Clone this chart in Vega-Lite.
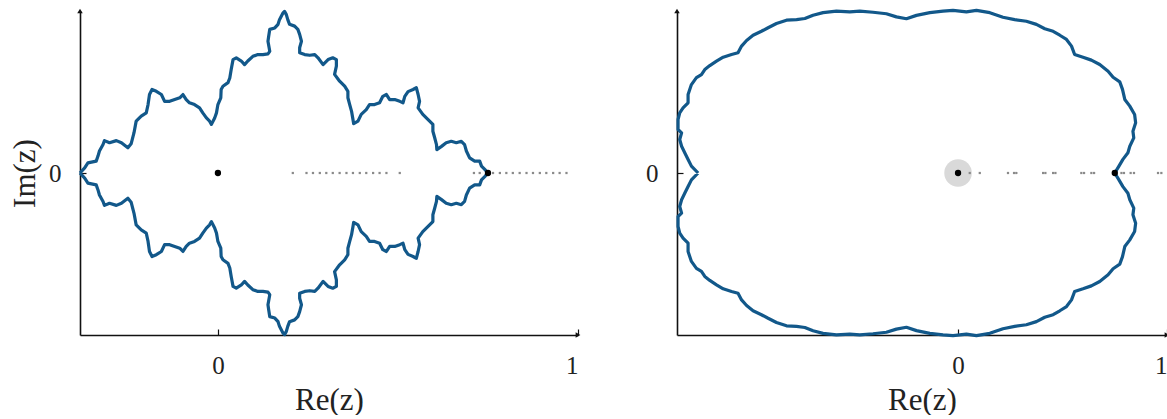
{
  "$schema": "https://vega.github.io/schema/vega-lite/v6.json",
  "padding": {"left": 9, "top": 8, "right": 0, "bottom": 0},
  "spacing": 64,
  "config": {
    "font": "Liberation Serif",
    "view": {"stroke": null},
    "axis": {
      "grid": false,
      "domainColor": "#111",
      "domainWidth": 1.6,
      "tickColor": "#111",
      "tickWidth": 1.2,
      "tickSize": -6,
      "labelFont": "Liberation Serif",
      "labelFontSize": 25,
      "labelColor": "#222",
      "titleFont": "Liberation Serif",
      "titleFontSize": 31,
      "titleFontWeight": "normal",
      "titleColor": "#222",
      "format": "d"
    }
  },
  "datasets": {
    "julia": [
      {"i":1,"x":-0.383,"y":0},{"i":2,"x":-0.370,"y":0.014},{"i":3,"x":-0.361,"y":0.028},{"i":4,"x":-0.338,"y":0.033},{"i":5,"x":-0.333,"y":0.047},{"i":6,"x":-0.329,"y":0.061},{"i":7,"x":-0.319,"y":0.079},{"i":8,"x":-0.315,"y":0.090},{"i":9,"x":-0.301,"y":0.084},{"i":10,"x":-0.282,"y":0.090},
      {"i":11,"x":-0.268,"y":0.084},{"i":12,"x":-0.250,"y":0.070},{"i":13,"x":-0.241,"y":0.081},{"i":14,"x":-0.233,"y":0.112},{"i":15,"x":-0.227,"y":0.144},{"i":16,"x":-0.213,"y":0.158},{"i":17,"x":-0.199,"y":0.167},{"i":18,"x":-0.194,"y":0.190},{"i":19,"x":-0.190,"y":0.218},{"i":20,"x":-0.183,"y":0.232},
      {"i":21,"x":-0.171,"y":0.227},{"i":22,"x":-0.157,"y":0.218},{"i":23,"x":-0.148,"y":0.199},{"i":24,"x":-0.134,"y":0.199},{"i":25,"x":-0.120,"y":0.204},{"i":26,"x":-0.106,"y":0.209},{"i":27,"x":-0.097,"y":0.218},{"i":28,"x":-0.088,"y":0.204},{"i":29,"x":-0.079,"y":0.195},{"i":30,"x":-0.065,"y":0.190},
      {"i":31,"x":-0.051,"y":0.181},{"i":32,"x":-0.042,"y":0.167},{"i":33,"x":-0.032,"y":0.153},{"i":34,"x":-0.023,"y":0.144},{"i":35,"x":-0.018,"y":0.135},{"i":36,"x":-0.009,"y":0.153},{"i":37,"x":-0.004,"y":0.167},{"i":38,"x":0.000,"y":0.190},{"i":39,"x":0.008,"y":0.209},{"i":40,"x":0.009,"y":0.232},
      {"i":41,"x":0.014,"y":0.241},{"i":42,"x":0.028,"y":0.251},{"i":43,"x":0.033,"y":0.264},{"i":44,"x":0.037,"y":0.288},{"i":45,"x":0.042,"y":0.315},{"i":46,"x":0.051,"y":0.320},{"i":47,"x":0.065,"y":0.311},{"i":48,"x":0.074,"y":0.301},{"i":49,"x":0.083,"y":0.311},{"i":50,"x":0.097,"y":0.324},
      {"i":51,"x":0.111,"y":0.329},{"i":52,"x":0.125,"y":0.329},{"i":53,"x":0.139,"y":0.331},{"i":54,"x":0.144,"y":0.338},{"i":55,"x":0.139,"y":0.366},{"i":56,"x":0.141,"y":0.380},{"i":57,"x":0.144,"y":0.399},{"i":58,"x":0.158,"y":0.403},{"i":59,"x":0.167,"y":0.413},{"i":60,"x":0.171,"y":0.426},
      {"i":61,"x":0.181,"y":0.445},{"i":62,"x":0.185,"y":0.449},{"i":63,"x":0.190,"y":0.440},{"i":64,"x":0.194,"y":0.426},{"i":65,"x":0.199,"y":0.413},{"i":66,"x":0.213,"y":0.408},{"i":67,"x":0.222,"y":0.399},{"i":68,"x":0.227,"y":0.385},{"i":69,"x":0.232,"y":0.366},{"i":70,"x":0.227,"y":0.348},
      {"i":71,"x":0.227,"y":0.334},{"i":72,"x":0.241,"y":0.329},{"i":73,"x":0.255,"y":0.327},{"i":74,"x":0.269,"y":0.329},{"i":75,"x":0.278,"y":0.320},{"i":76,"x":0.292,"y":0.301},{"i":77,"x":0.306,"y":0.315},{"i":78,"x":0.319,"y":0.320},{"i":79,"x":0.329,"y":0.315},{"i":80,"x":0.329,"y":0.297},
      {"i":81,"x":0.324,"y":0.274},{"i":82,"x":0.338,"y":0.255},{"i":83,"x":0.352,"y":0.241},{"i":84,"x":0.361,"y":0.227},{"i":85,"x":0.361,"y":0.209},{"i":86,"x":0.366,"y":0.190},{"i":87,"x":0.371,"y":0.172},{"i":88,"x":0.375,"y":0.149},{"i":89,"x":0.377,"y":0.137},{"i":90,"x":0.389,"y":0.144},
      {"i":91,"x":0.398,"y":0.163},{"i":92,"x":0.412,"y":0.176},{"i":93,"x":0.421,"y":0.190},{"i":94,"x":0.435,"y":0.190},{"i":95,"x":0.449,"y":0.195},{"i":96,"x":0.458,"y":0.213},{"i":97,"x":0.468,"y":0.218},{"i":98,"x":0.477,"y":0.204},{"i":99,"x":0.491,"y":0.204},{"i":100,"x":0.505,"y":0.199},
      {"i":101,"x":0.514,"y":0.195},{"i":102,"x":0.519,"y":0.213},{"i":103,"x":0.528,"y":0.226},{"i":104,"x":0.542,"y":0.232},{"i":105,"x":0.551,"y":0.237},{"i":106,"x":0.556,"y":0.218},{"i":107,"x":0.560,"y":0.199},{"i":108,"x":0.556,"y":0.181},{"i":109,"x":0.569,"y":0.163},{"i":110,"x":0.583,"y":0.149},
      {"i":111,"x":0.597,"y":0.135},{"i":112,"x":0.597,"y":0.116},{"i":113,"x":0.602,"y":0.098},{"i":114,"x":0.607,"y":0.079},{"i":115,"x":0.608,"y":0.065},{"i":116,"x":0.621,"y":0.074},{"i":117,"x":0.634,"y":0.084},{"i":118,"x":0.648,"y":0.088},{"i":119,"x":0.662,"y":0.084},{"i":120,"x":0.676,"y":0.088},
      {"i":121,"x":0.685,"y":0.079},{"i":122,"x":0.690,"y":0.061},{"i":123,"x":0.699,"y":0.042},{"i":124,"x":0.713,"y":0.033},{"i":125,"x":0.727,"y":0.033},{"i":126,"x":0.732,"y":0.019},{"i":127,"x":0.741,"y":0.010},{"i":128,"x":0.750,"y":0},
      {"i":129,"x":0.741,"y":-0.010},{"i":130,"x":0.732,"y":-0.019},{"i":131,"x":0.727,"y":-0.033},{"i":132,"x":0.713,"y":-0.033},{"i":133,"x":0.699,"y":-0.042},{"i":134,"x":0.690,"y":-0.061},{"i":135,"x":0.685,"y":-0.079},{"i":136,"x":0.676,"y":-0.088},{"i":137,"x":0.662,"y":-0.084},{"i":138,"x":0.648,"y":-0.088},
      {"i":139,"x":0.634,"y":-0.084},{"i":140,"x":0.621,"y":-0.074},{"i":141,"x":0.608,"y":-0.065},{"i":142,"x":0.607,"y":-0.079},{"i":143,"x":0.602,"y":-0.098},{"i":144,"x":0.597,"y":-0.116},{"i":145,"x":0.597,"y":-0.135},{"i":146,"x":0.583,"y":-0.149},{"i":147,"x":0.569,"y":-0.163},{"i":148,"x":0.556,"y":-0.181},
      {"i":149,"x":0.560,"y":-0.199},{"i":150,"x":0.556,"y":-0.218},{"i":151,"x":0.551,"y":-0.237},{"i":152,"x":0.542,"y":-0.232},{"i":153,"x":0.528,"y":-0.226},{"i":154,"x":0.519,"y":-0.213},{"i":155,"x":0.514,"y":-0.195},{"i":156,"x":0.505,"y":-0.199},{"i":157,"x":0.491,"y":-0.204},{"i":158,"x":0.477,"y":-0.204},
      {"i":159,"x":0.468,"y":-0.218},{"i":160,"x":0.458,"y":-0.213},{"i":161,"x":0.449,"y":-0.195},{"i":162,"x":0.435,"y":-0.190},{"i":163,"x":0.421,"y":-0.190},{"i":164,"x":0.412,"y":-0.176},{"i":165,"x":0.398,"y":-0.163},{"i":166,"x":0.389,"y":-0.144},{"i":167,"x":0.377,"y":-0.137},{"i":168,"x":0.375,"y":-0.149},
      {"i":169,"x":0.371,"y":-0.172},{"i":170,"x":0.366,"y":-0.190},{"i":171,"x":0.361,"y":-0.209},{"i":172,"x":0.361,"y":-0.227},{"i":173,"x":0.352,"y":-0.241},{"i":174,"x":0.338,"y":-0.255},{"i":175,"x":0.324,"y":-0.274},{"i":176,"x":0.329,"y":-0.297},{"i":177,"x":0.329,"y":-0.315},{"i":178,"x":0.319,"y":-0.320},
      {"i":179,"x":0.306,"y":-0.315},{"i":180,"x":0.292,"y":-0.301},{"i":181,"x":0.278,"y":-0.320},{"i":182,"x":0.269,"y":-0.329},{"i":183,"x":0.255,"y":-0.327},{"i":184,"x":0.241,"y":-0.329},{"i":185,"x":0.227,"y":-0.334},{"i":186,"x":0.227,"y":-0.348},{"i":187,"x":0.232,"y":-0.366},{"i":188,"x":0.227,"y":-0.385},
      {"i":189,"x":0.222,"y":-0.399},{"i":190,"x":0.213,"y":-0.408},{"i":191,"x":0.199,"y":-0.413},{"i":192,"x":0.194,"y":-0.426},{"i":193,"x":0.190,"y":-0.440},{"i":194,"x":0.185,"y":-0.449},{"i":195,"x":0.181,"y":-0.445},{"i":196,"x":0.171,"y":-0.426},{"i":197,"x":0.167,"y":-0.413},{"i":198,"x":0.158,"y":-0.403},
      {"i":199,"x":0.144,"y":-0.399},{"i":200,"x":0.141,"y":-0.380},{"i":201,"x":0.139,"y":-0.366},{"i":202,"x":0.144,"y":-0.338},{"i":203,"x":0.139,"y":-0.331},{"i":204,"x":0.125,"y":-0.329},{"i":205,"x":0.111,"y":-0.329},{"i":206,"x":0.097,"y":-0.324},{"i":207,"x":0.083,"y":-0.311},{"i":208,"x":0.074,"y":-0.301},
      {"i":209,"x":0.065,"y":-0.311},{"i":210,"x":0.051,"y":-0.320},{"i":211,"x":0.042,"y":-0.315},{"i":212,"x":0.037,"y":-0.288},{"i":213,"x":0.033,"y":-0.264},{"i":214,"x":0.028,"y":-0.251},{"i":215,"x":0.014,"y":-0.241},{"i":216,"x":0.009,"y":-0.232},{"i":217,"x":0.008,"y":-0.209},{"i":218,"x":0.000,"y":-0.190},
      {"i":219,"x":-0.004,"y":-0.167},{"i":220,"x":-0.009,"y":-0.153},{"i":221,"x":-0.018,"y":-0.135},{"i":222,"x":-0.023,"y":-0.144},{"i":223,"x":-0.032,"y":-0.153},{"i":224,"x":-0.042,"y":-0.167},{"i":225,"x":-0.051,"y":-0.181},{"i":226,"x":-0.065,"y":-0.190},{"i":227,"x":-0.079,"y":-0.195},{"i":228,"x":-0.088,"y":-0.204},
      {"i":229,"x":-0.097,"y":-0.218},{"i":230,"x":-0.106,"y":-0.209},{"i":231,"x":-0.120,"y":-0.204},{"i":232,"x":-0.134,"y":-0.199},{"i":233,"x":-0.148,"y":-0.199},{"i":234,"x":-0.157,"y":-0.218},{"i":235,"x":-0.171,"y":-0.227},{"i":236,"x":-0.183,"y":-0.232},{"i":237,"x":-0.190,"y":-0.218},{"i":238,"x":-0.194,"y":-0.190},
      {"i":239,"x":-0.199,"y":-0.167},{"i":240,"x":-0.213,"y":-0.158},{"i":241,"x":-0.227,"y":-0.144},{"i":242,"x":-0.233,"y":-0.112},{"i":243,"x":-0.241,"y":-0.081},{"i":244,"x":-0.250,"y":-0.070},{"i":245,"x":-0.268,"y":-0.084},{"i":246,"x":-0.282,"y":-0.090},{"i":247,"x":-0.301,"y":-0.084},{"i":248,"x":-0.315,"y":-0.090},
      {"i":249,"x":-0.319,"y":-0.079},{"i":250,"x":-0.329,"y":-0.061},{"i":251,"x":-0.333,"y":-0.047},{"i":252,"x":-0.338,"y":-0.033},{"i":253,"x":-0.361,"y":-0.028},{"i":254,"x":-0.370,"y":-0.014},{"i":255,"x":-0.383,"y":0}
    ],
    "disk": [
      {"i":1,"x":-1.244,"y":0},{"i":2,"x":-1.276,"y":0.033},{"i":3,"x":-1.292,"y":0.065},{"i":4,"x":-1.308,"y":0.097},{"i":5,"x":-1.323,"y":0.128},{"i":6,"x":-1.332,"y":0.160},{"i":7,"x":-1.323,"y":0.192},{"i":8,"x":-1.340,"y":0.208},{"i":9,"x":-1.340,"y":0.256},{"i":10,"x":-1.332,"y":0.288},
      {"i":11,"x":-1.316,"y":0.312},{"i":12,"x":-1.292,"y":0.336},{"i":13,"x":-1.292,"y":0.376},{"i":14,"x":-1.276,"y":0.423},{"i":15,"x":-1.252,"y":0.456},{"i":16,"x":-1.228,"y":0.471},{"i":17,"x":-1.212,"y":0.495},{"i":18,"x":-1.188,"y":0.514},{"i":19,"x":-1.156,"y":0.535},{"i":20,"x":-1.124,"y":0.554},
      {"i":21,"x":-1.084,"y":0.567},{"i":22,"x":-1.053,"y":0.575},{"i":23,"x":-1.036,"y":0.607},{"i":24,"x":-1.012,"y":0.634},{"i":25,"x":-0.981,"y":0.659},{"i":26,"x":-0.941,"y":0.678},{"i":27,"x":-0.909,"y":0.695},{"i":28,"x":-0.869,"y":0.715},{"i":29,"x":-0.821,"y":0.731},{"i":30,"x":-0.773,"y":0.734},
      {"i":31,"x":-0.733,"y":0.739},{"i":32,"x":-0.694,"y":0.755},{"i":33,"x":-0.646,"y":0.767},{"i":34,"x":-0.582,"y":0.774},{"i":35,"x":-0.518,"y":0.771},{"i":36,"x":-0.470,"y":0.774},{"i":37,"x":-0.407,"y":0.769},{"i":38,"x":-0.343,"y":0.762},{"i":39,"x":-0.295,"y":0.747},{"i":40,"x":-0.247,"y":0.738},
      {"i":41,"x":-0.199,"y":0.754},{"i":42,"x":-0.135,"y":0.767},{"i":43,"x":-0.072,"y":0.774},{"i":44,"x":-0.024,"y":0.778},{"i":45,"x":0.040,"y":0.771},{"i":46,"x":0.088,"y":0.778},{"i":47,"x":0.152,"y":0.767},{"i":48,"x":0.215,"y":0.745},{"i":49,"x":0.271,"y":0.734},{"i":50,"x":0.327,"y":0.726},
      {"i":51,"x":0.375,"y":0.711},{"i":52,"x":0.415,"y":0.690},{"i":53,"x":0.455,"y":0.678},{"i":54,"x":0.487,"y":0.659},{"i":55,"x":0.519,"y":0.639},{"i":56,"x":0.543,"y":0.607},{"i":57,"x":0.558,"y":0.567},{"i":58,"x":0.598,"y":0.554},{"i":59,"x":0.638,"y":0.540},{"i":60,"x":0.678,"y":0.519},
      {"i":61,"x":0.718,"y":0.487},{"i":62,"x":0.742,"y":0.458},{"i":63,"x":0.774,"y":0.436},{"i":64,"x":0.787,"y":0.400},{"i":65,"x":0.798,"y":0.352},{"i":66,"x":0.822,"y":0.320},{"i":67,"x":0.845,"y":0.280},{"i":68,"x":0.850,"y":0.240},{"i":69,"x":0.837,"y":0.200},{"i":70,"x":0.841,"y":0.168},
      {"i":71,"x":0.822,"y":0.128},{"i":72,"x":0.813,"y":0.097},{"i":73,"x":0.789,"y":0.065},{"i":74,"x":0.770,"y":0.033},{"i":75,"x":0.750,"y":0},
      {"i":76,"x":0.770,"y":-0.033},{"i":77,"x":0.789,"y":-0.065},{"i":78,"x":0.813,"y":-0.097},{"i":79,"x":0.822,"y":-0.128},{"i":80,"x":0.841,"y":-0.168},{"i":81,"x":0.837,"y":-0.200},{"i":82,"x":0.850,"y":-0.240},{"i":83,"x":0.845,"y":-0.280},{"i":84,"x":0.822,"y":-0.320},{"i":85,"x":0.798,"y":-0.352},
      {"i":86,"x":0.787,"y":-0.400},{"i":87,"x":0.774,"y":-0.436},{"i":88,"x":0.742,"y":-0.458},{"i":89,"x":0.718,"y":-0.487},{"i":90,"x":0.678,"y":-0.519},{"i":91,"x":0.638,"y":-0.540},{"i":92,"x":0.598,"y":-0.554},{"i":93,"x":0.558,"y":-0.567},{"i":94,"x":0.543,"y":-0.607},{"i":95,"x":0.519,"y":-0.639},
      {"i":96,"x":0.487,"y":-0.659},{"i":97,"x":0.455,"y":-0.678},{"i":98,"x":0.415,"y":-0.690},{"i":99,"x":0.375,"y":-0.711},{"i":100,"x":0.327,"y":-0.726},{"i":101,"x":0.271,"y":-0.734},{"i":102,"x":0.215,"y":-0.745},{"i":103,"x":0.152,"y":-0.767},{"i":104,"x":0.088,"y":-0.778},{"i":105,"x":0.040,"y":-0.771},
      {"i":106,"x":-0.024,"y":-0.778},{"i":107,"x":-0.072,"y":-0.774},{"i":108,"x":-0.135,"y":-0.767},{"i":109,"x":-0.199,"y":-0.754},{"i":110,"x":-0.247,"y":-0.738},{"i":111,"x":-0.295,"y":-0.747},{"i":112,"x":-0.343,"y":-0.762},{"i":113,"x":-0.407,"y":-0.769},{"i":114,"x":-0.470,"y":-0.774},{"i":115,"x":-0.518,"y":-0.771},
      {"i":116,"x":-0.582,"y":-0.774},{"i":117,"x":-0.646,"y":-0.767},{"i":118,"x":-0.694,"y":-0.755},{"i":119,"x":-0.733,"y":-0.739},{"i":120,"x":-0.773,"y":-0.734},{"i":121,"x":-0.821,"y":-0.731},{"i":122,"x":-0.869,"y":-0.715},{"i":123,"x":-0.909,"y":-0.695},{"i":124,"x":-0.941,"y":-0.678},{"i":125,"x":-0.981,"y":-0.659},
      {"i":126,"x":-1.012,"y":-0.634},{"i":127,"x":-1.036,"y":-0.607},{"i":128,"x":-1.053,"y":-0.575},{"i":129,"x":-1.084,"y":-0.567},{"i":130,"x":-1.124,"y":-0.554},{"i":131,"x":-1.156,"y":-0.535},{"i":132,"x":-1.188,"y":-0.514},{"i":133,"x":-1.212,"y":-0.495},{"i":134,"x":-1.228,"y":-0.471},{"i":135,"x":-1.252,"y":-0.456},
      {"i":136,"x":-1.276,"y":-0.423},{"i":137,"x":-1.292,"y":-0.376},{"i":138,"x":-1.292,"y":-0.336},{"i":139,"x":-1.316,"y":-0.312},{"i":140,"x":-1.332,"y":-0.288},{"i":141,"x":-1.340,"y":-0.256},{"i":142,"x":-1.340,"y":-0.208},{"i":143,"x":-1.323,"y":-0.192},{"i":144,"x":-1.332,"y":-0.160},{"i":145,"x":-1.323,"y":-0.128},
      {"i":146,"x":-1.308,"y":-0.097},{"i":147,"x":-1.292,"y":-0.065},{"i":148,"x":-1.276,"y":-0.033},{"i":149,"x":-1.244,"y":0}
    ],
    "leftDots": [
      {"x":0.208,"y":0},{"x":0.246,"y":0},{"x":0.264,"y":0},{"x":0.283,"y":0},{"x":0.301,"y":0},{"x":0.319,"y":0},{"x":0.338,"y":0},{"x":0.357,"y":0},{"x":0.375,"y":0},{"x":0.394,"y":0},
      {"x":0.412,"y":0},{"x":0.431,"y":0},{"x":0.449,"y":0},{"x":0.468,"y":0},{"x":0.505,"y":0},{"x":0.711,"y":0},{"x":0.727,"y":0},{"x":0.764,"y":0},{"x":0.783,"y":0},{"x":0.801,"y":0},
      {"x":0.819,"y":0},{"x":0.838,"y":0},{"x":0.857,"y":0},{"x":0.875,"y":0},{"x":0.894,"y":0},{"x":0.912,"y":0},{"x":0.931,"y":0},{"x":0.949,"y":0},{"x":0.968,"y":0}
    ],
    "rightDots": [
      {"x":0.056,"y":0},{"x":0.104,"y":0},{"x":0.239,"y":0},{"x":0.268,"y":0},{"x":0.279,"y":0},{"x":0.407,"y":0},{"x":0.418,"y":0},{"x":0.455,"y":0},{"x":0.466,"y":0},{"x":0.590,"y":0},
      {"x":0.603,"y":0},{"x":0.638,"y":0},{"x":0.651,"y":0},{"x":0.782,"y":0},{"x":0.794,"y":0},{"x":0.826,"y":0},{"x":0.842,"y":0},{"x":0.957,"y":0},{"x":0.973,"y":0}
    ],
    "fixed": [{"x":0,"y":0},{"x":0.75,"y":0}],
    "leftArrows": [{"x":-0.383,"y":0.45,"s":"triangle-up"},{"x":1.0,"y":-0.45,"s":"triangle-right"}],
    "rightArrows": [{"x":-1.345,"y":0.775,"s":"triangle-up"},{"x":1.0,"y":-0.775,"s":"triangle-right"}]
  },
  "hconcat": [
    {
      "width": 498,
      "height": 324,
      "encoding": {
        "x": {"field": "x", "type": "quantitative", "scale": {"domain": [-0.383, 1.0], "nice": false, "zero": false},
              "axis": {"values": [0, 1], "title": "Re(z)", "labelPadding": 24, "titlePadding": 7}},
        "y": {"field": "y", "type": "quantitative", "scale": {"domain": [-0.45, 0.45], "nice": false, "zero": false},
              "axis": {"values": [0], "title": "Im(z)", "labelPadding": 25, "titlePadding": 7}}
      },
      "layer": [
        {"data": {"name": "leftDots"}, "mark": {"type": "square", "size": 5, "color": "#8a8a8a", "opacity": 1}},
        {"data": {"name": "julia"}, "mark": {"type": "line", "color": "#12588a", "strokeWidth": 3.2, "strokeJoin": "round"},
         "encoding": {"order": {"field": "i", "type": "quantitative"}}},
        {"data": {"name": "fixed"}, "mark": {"type": "circle", "size": 40, "color": "#000", "opacity": 1}},
        {"data": {"name": "leftArrows"}, "mark": {"type": "point", "filled": true, "size": 30, "color": "#111", "opacity": 1},
         "encoding": {"shape": {"field": "s", "type": "nominal", "scale": null}}}
      ]
    },
    {
      "width": 490,
      "height": 324,
      "encoding": {
        "x": {"field": "x", "type": "quantitative", "scale": {"domain": [-1.345, 1.0], "nice": false, "zero": false},
              "axis": {"values": [0, 1], "title": "Re(z)", "labelPadding": 24, "titlePadding": 7}},
        "y": {"field": "y", "type": "quantitative", "scale": {"domain": [-0.775, 0.775], "nice": false, "zero": false},
              "axis": {"values": [0], "title": null, "labelPadding": 25}}
      },
      "layer": [
        {"data": {"name": "fixed"}, "transform": [{"filter": "datum.x == 0"}], "mark": {"type": "circle", "size": 760, "color": "#d9d9d9", "opacity": 1}},
        {"data": {"name": "rightDots"}, "mark": {"type": "square", "size": 5, "color": "#8a8a8a", "opacity": 1}},
        {"data": {"name": "disk"}, "mark": {"type": "line", "color": "#12588a", "strokeWidth": 3.2, "strokeJoin": "round"},
         "encoding": {"order": {"field": "i", "type": "quantitative"}}},
        {"data": {"name": "fixed"}, "mark": {"type": "circle", "size": 40, "color": "#000", "opacity": 1}},
        {"data": {"name": "rightArrows"}, "mark": {"type": "point", "filled": true, "size": 30, "color": "#111", "opacity": 1},
         "encoding": {"shape": {"field": "s", "type": "nominal", "scale": null}}}
      ]
    }
  ]
}
